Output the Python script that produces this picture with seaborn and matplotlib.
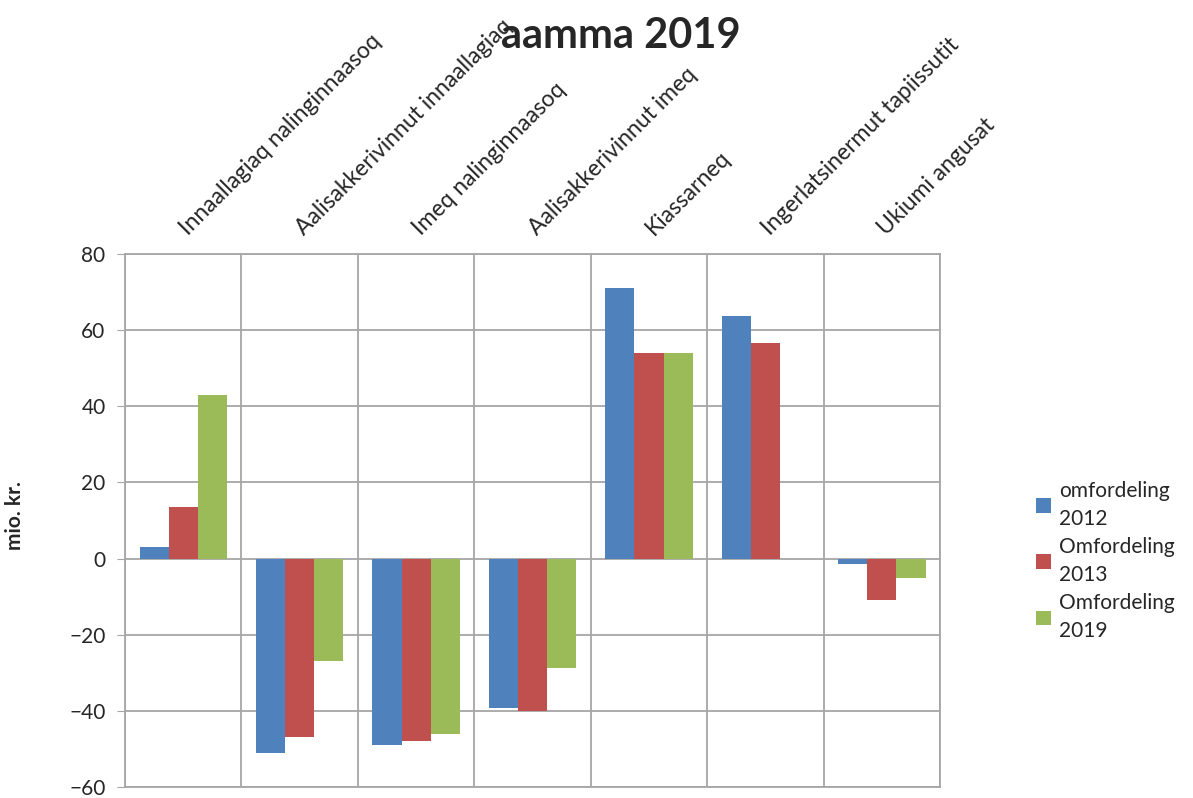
import numpy as np
import pandas as pd
import matplotlib
matplotlib.use("Agg")
import matplotlib.pyplot as plt
import seaborn as sns

# categories and values (mio. kr.)
categories = ["Innaallagiaq nalinginnaasoq", "Aalisakkerivinnut innaallagiaq",
              "Imeq nalinginnaasoq", "Aalisakkerivinnut imeq", "Kiassarneq",
              "Ingerlatsinermut tapiissutit", "Ukiumi angusat"]
series = ["omfordeling\n2012", "Omfordeling\n2013", "Omfordeling\n2019"]
vals_2012 = [3, -51, -49, -39.3, 71, 63.8, -1.3]
vals_2013 = [13.5, -47, -48, -40, 54, 56.5, -11]
vals_2019 = [43, -27, -46, -28.8, 54, np.nan, -5]
colors = ["#4F81BD", "#C0504D", "#9BBB59"]

rows = []
for s, vals in zip(series, [vals_2012, vals_2013, vals_2019]):
    for c, v in zip(categories, vals):
        rows.append({"cat": c, "serie": s, "val": v})
df = pd.DataFrame(rows)

sns.set_style("white")
plt.rcParams['font.family'] = ['Lato', 'DejaVu Sans']

fig = plt.figure(figsize=(11.93, 7.98), dpi=100)
ax = fig.add_axes([0.1048, 0.0138, 0.6832, 0.6679])

sns.barplot(data=df, x="cat", y="val", hue="serie", order=categories,
            hue_order=series, palette=colors, width=0.75, saturation=1,
            ax=ax, errorbar=None, edgecolor="none")

ax.set_ylim(-60, 80)
ax.set_yticks(np.arange(-60, 81, 20))
ax.set_xlim(-0.5, len(categories) - 0.5)
ax.set_xticks(np.arange(-0.5, len(categories), 1), minor=True)
ax.grid(True, which="minor", axis="x", color="#A6A6A6", lw=1.3)
ax.grid(True, which="major", axis="y", color="#A6A6A6", lw=1.3)
ax.set_axisbelow(True)
for sp in ax.spines.values():
    sp.set_color("#A6A6A6")
    sp.set_linewidth(1.3)

ax.xaxis.tick_top()
ax.tick_params(axis="x", which="both", length=0, pad=16)
ax.set_xticks(range(len(categories)))
ax.set_xticklabels(categories, rotation=45, ha="left", va="center",
                   rotation_mode="anchor", fontsize=16.5)
ax.tick_params(axis="y", left=True, length=6, color="#A6A6A6", labelsize=15,
               pad=8)
ax.set_xlabel("")
ax.set_ylabel("mio. kr.", fontsize=15, fontweight="bold")
ax.yaxis.set_label_coords(-0.123, 0.51)

leg = ax.legend(loc="center left", bbox_to_anchor=(0.853, 0.297),
                bbox_transform=fig.transFigure, frameon=False, fontsize=15,
                handlelength=0.7, handleheight=0.7, handletextpad=0.4,
                labelspacing=0.35)
for t in leg.get_texts():
    t.set_linespacing(1.55)

fig.text(0.52, 0.955, "aamma 2019", ha="center", va="center",
         fontsize=30, fontweight="bold")

fig.savefig("out.png", dpi=100)
